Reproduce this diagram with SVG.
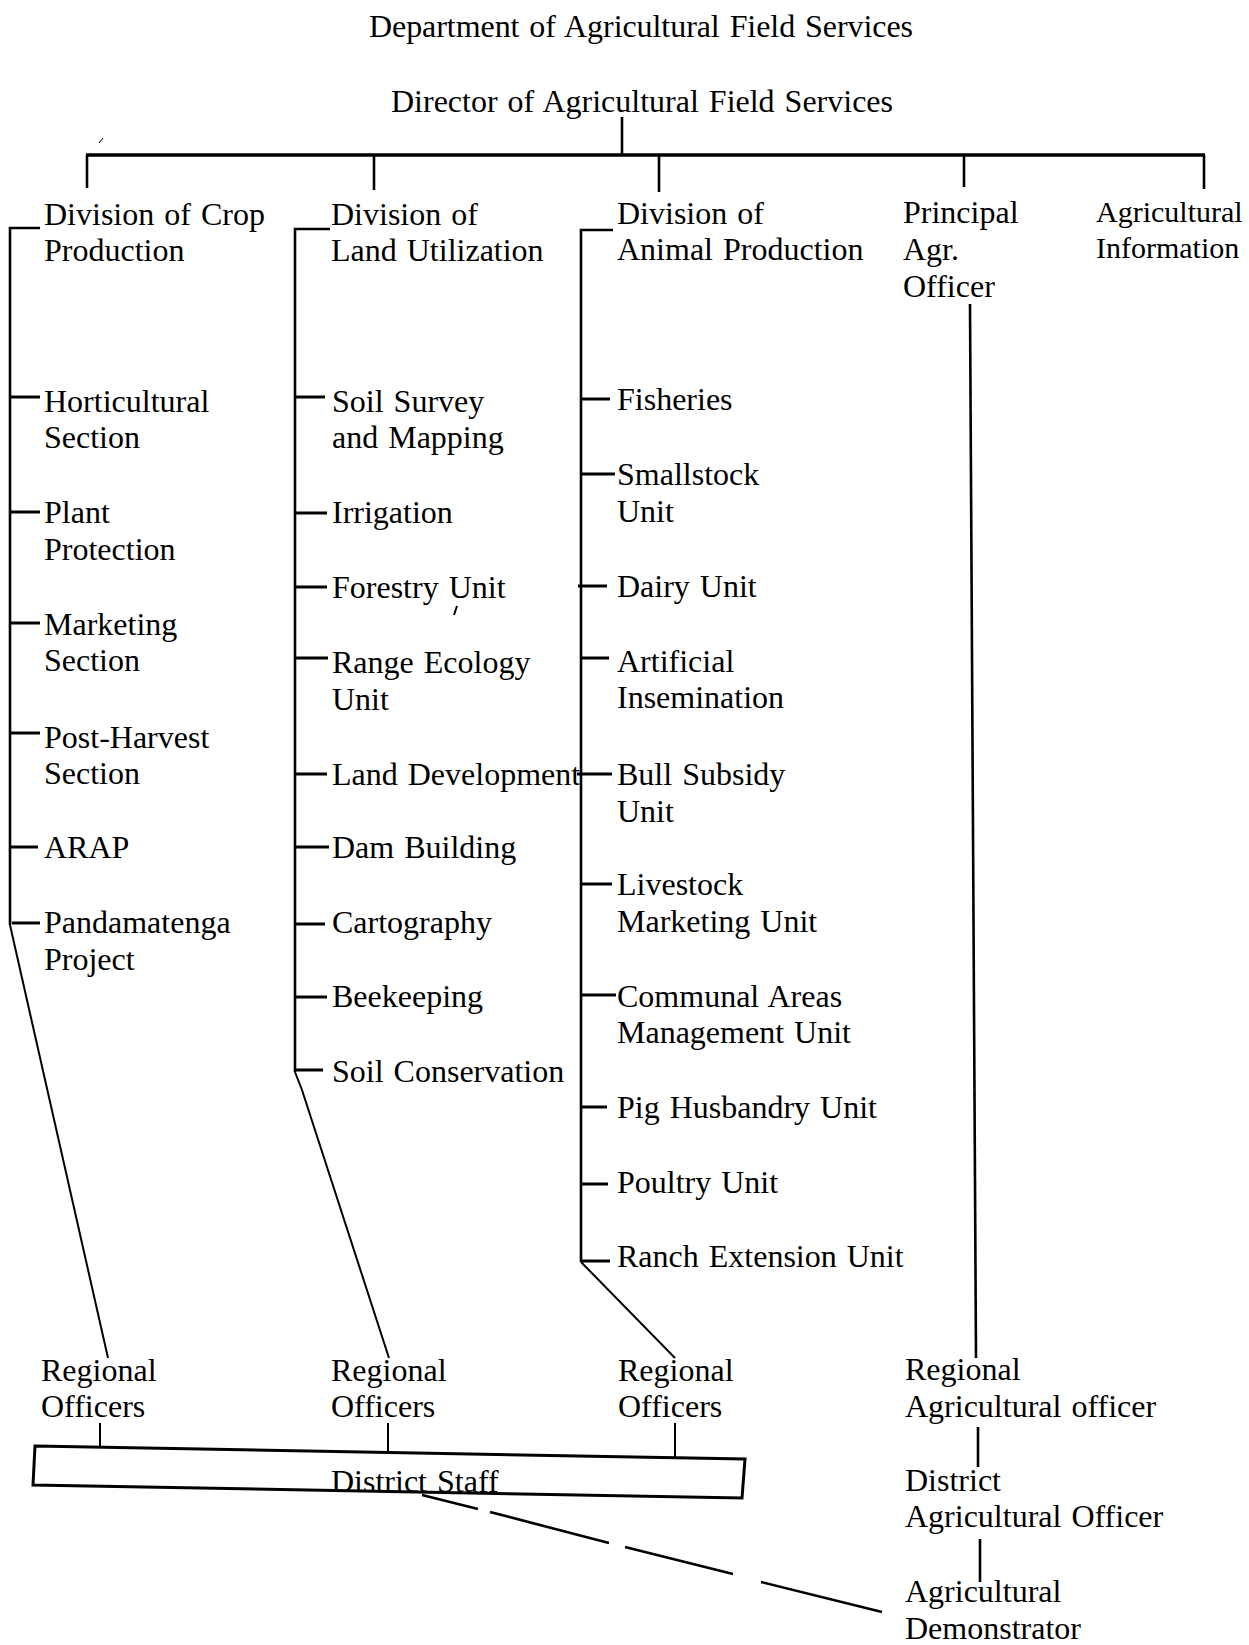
<svg xmlns="http://www.w3.org/2000/svg" width="1249" height="1645" viewBox="0 0 1249 1645">
<style>
  text { font-family: "Liberation Serif", "Times New Roman", serif; font-size: 32px; fill: #000; word-spacing: 2px; }
  .nar { font-size: 30px; }
  .ln { stroke: #000; stroke-width: 2.6; fill: none; stroke-linecap: butt; }
  .bar { stroke: #000; stroke-width: 3.6; fill: none; }
  .sl { stroke: #000; stroke-width: 2; fill: none; }
  .tk { stroke: #000; stroke-width: 3; fill: none; }
  .box { stroke: #000; stroke-width: 3; fill: none; stroke-linejoin: miter; }
  .dash { stroke: #000; stroke-width: 2.6; fill: none; }
</style>
<rect width="1249" height="1645" fill="#fff"/>

<g id="connectors">
  <!-- director to bar -->
  <line class="ln" x1="622" y1="117" x2="622" y2="155"/>
  <line class="bar" x1="86" y1="155" x2="1205" y2="155"/>
  <line class="ln" x1="87" y1="155" x2="87" y2="188"/>
  <line class="ln" x1="374" y1="155" x2="374" y2="190"/>
  <line class="ln" x1="659" y1="155" x2="659" y2="192"/>
  <line class="ln" x1="964" y1="155" x2="964" y2="187"/>
  <line class="ln" x1="1204" y1="155" x2="1204" y2="189"/>

  <!-- column 1 bracket -->
  <path class="ln" d="M40 228 H10 V925"/>
  <line class="tk" x1="10" y1="397" x2="40" y2="397"/>
  <line class="tk" x1="10" y1="512" x2="40" y2="512"/>
  <line class="tk" x1="10" y1="623" x2="40" y2="623"/>
  <line class="tk" x1="10" y1="733" x2="40" y2="733"/>
  <line class="tk" x1="10" y1="847" x2="38" y2="847"/>
  <line class="tk" x1="12" y1="923" x2="40" y2="923"/>
  <line class="sl" x1="10" y1="925" x2="108" y2="1358"/>

  <!-- column 2 bracket -->
  <path class="ln" d="M330 229 H295 V1072"/>
  <line class="tk" x1="295" y1="397" x2="325" y2="397"/>
  <line class="tk" x1="295" y1="513" x2="327" y2="513"/>
  <line class="tk" x1="295" y1="587" x2="327" y2="587"/>
  <line class="tk" x1="295" y1="658" x2="328" y2="658"/>
  <line class="tk" x1="295" y1="774" x2="327" y2="774"/>
  <line class="tk" x1="295" y1="847" x2="329" y2="847"/>
  <line class="tk" x1="295" y1="924" x2="325" y2="924"/>
  <line class="tk" x1="295" y1="997" x2="327" y2="997"/>
  <line class="tk" x1="295" y1="1070" x2="323" y2="1070"/>
  <path class="sl" d="M295 1072 L302 1090 L389 1358"/>

  <!-- column 3 bracket -->
  <path class="ln" d="M613 230 H581 V1262"/>
  <line class="tk" x1="580" y1="399" x2="610" y2="399"/>
  <line class="tk" x1="581" y1="474" x2="615" y2="474"/>
  <line class="tk" x1="578" y1="586" x2="607" y2="586"/>
  <line class="tk" x1="581" y1="658" x2="609" y2="658"/>
  <line class="tk" x1="577" y1="774" x2="612" y2="774"/>
  <line class="tk" x1="581" y1="884" x2="612" y2="884"/>
  <line class="tk" x1="581" y1="995" x2="616" y2="995"/>
  <line class="tk" x1="581" y1="1107" x2="607" y2="1107"/>
  <line class="tk" x1="581" y1="1184" x2="608" y2="1184"/>
  <line class="tk" x1="581" y1="1261" x2="610" y2="1261"/>
  <line class="sl" x1="581" y1="1262" x2="675" y2="1358"/>

  <!-- column 4 -->
  <line class="ln" x1="970" y1="304" x2="976" y2="1358"/>
  <line class="ln" x1="978" y1="1427" x2="978" y2="1467"/>
  <line class="ln" x1="980" y1="1539" x2="980" y2="1582"/>

  <!-- regional officers to district staff -->
  <line class="sl" x1="100" y1="1423" x2="100" y2="1447"/>
  <line class="sl" x1="388" y1="1423" x2="388" y2="1451"/>
  <line class="sl" x1="675" y1="1423" x2="675" y2="1457"/>

  <!-- dashed link to demonstrator -->
  <path class="dash" d="M422 1495 L478 1509 M490 1512 L609 1543 M625 1547 L733 1574 M761 1582 L882 1612"/>

  <!-- stray marks in scan -->
  <line class="sl" x1="457" y1="606" x2="454" y2="615"/>
  <line stroke="#000" stroke-width="1" x1="103" y1="138" x2="99" y2="143"/>
</g>

<g id="title"><text x="369" y="37" textLength="544" lengthAdjust="spacing">Department of Agricultural Field Services</text></g>
<g id="director"><text x="391" y="112" textLength="502" lengthAdjust="spacing">Director of Agricultural Field Services</text></g>

<g id="div-crop"><text x="44" y="225">Division of Crop</text><text x="44" y="261">Production</text></g>
<g id="div-land"><text x="331" y="225">Division of</text><text x="331" y="261">Land Utilization</text></g>
<g id="div-animal"><text x="617" y="224">Division of</text><text x="617" y="260">Animal Production</text></g>
<g id="principal"><text x="903" y="223">Principal</text><text x="903" y="260">Agr.</text><text x="903" y="297">Officer</text></g>
<g id="agr-info"><text class="nar" x="1096" y="222">Agricultural</text><text class="nar" x="1096" y="258">Information</text></g>

<g id="horticultural"><text x="44" y="412">Horticultural</text><text x="44" y="448">Section</text></g>
<g id="plant-protection"><text x="44" y="523">Plant</text><text x="44" y="560">Protection</text></g>
<g id="marketing"><text x="44" y="635">Marketing</text><text x="44" y="671">Section</text></g>
<g id="post-harvest"><text x="44" y="748">Post-Harvest</text><text x="44" y="784">Section</text></g>
<g id="arap"><text x="44" y="858">ARAP</text></g>
<g id="pandamatenga"><text x="44" y="933">Pandamatenga</text><text x="44" y="970">Project</text></g>

<g id="soil-survey"><text x="332" y="412">Soil Survey</text><text x="332" y="448">and Mapping</text></g>
<g id="irrigation"><text x="332" y="523">Irrigation</text></g>
<g id="forestry"><text x="332" y="598">Forestry Unit</text></g>
<g id="range-ecology"><text x="332" y="673">Range Ecology</text><text x="332" y="710">Unit</text></g>
<g id="land-development"><text x="332" y="785">Land Development</text></g>
<g id="dam-building"><text x="332" y="858">Dam Building</text></g>
<g id="cartography"><text x="332" y="933">Cartography</text></g>
<g id="beekeeping"><text x="332" y="1007">Beekeeping</text></g>
<g id="soil-conservation"><text x="332" y="1082">Soil Conservation</text></g>

<g id="fisheries"><text x="617" y="410">Fisheries</text></g>
<g id="smallstock"><text x="617" y="485">Smallstock</text><text x="617" y="522">Unit</text></g>
<g id="dairy"><text x="617" y="597">Dairy Unit</text></g>
<g id="ai"><text x="617" y="672">Artificial</text><text x="617" y="708">Insemination</text></g>
<g id="bull-subsidy"><text x="617" y="785">Bull Subsidy</text><text x="617" y="822">Unit</text></g>
<g id="livestock-marketing"><text x="617" y="895">Livestock</text><text x="617" y="932">Marketing Unit</text></g>
<g id="communal-areas"><text x="617" y="1007">Communal Areas</text><text x="617" y="1043">Management Unit</text></g>
<g id="pig"><text x="617" y="1118">Pig Husbandry Unit</text></g>
<g id="poultry"><text x="617" y="1193">Poultry Unit</text></g>
<g id="ranch"><text x="617" y="1267">Ranch Extension Unit</text></g>

<g id="regional-1"><text x="41" y="1381">Regional</text><text x="41" y="1417">Officers</text></g>
<g id="regional-2"><text x="331" y="1381">Regional</text><text x="331" y="1417">Officers</text></g>
<g id="regional-3"><text x="618" y="1381">Regional</text><text x="618" y="1417">Officers</text></g>
<g id="regional-agr-officer"><text x="905" y="1380">Regional</text><text x="905" y="1417">Agricultural officer</text></g>

<g id="district-staff">
  <polygon class="box" points="35,1446 745,1459 742,1498 33,1485"/>
  <text x="331" y="1492">District Staff</text>
</g>

<g id="district-agr-officer"><text x="905" y="1491">District</text><text x="905" y="1527">Agricultural Officer</text></g>
<g id="agr-demonstrator"><text x="905" y="1602">Agricultural</text><text x="905" y="1639">Demonstrator</text></g>
</svg>
